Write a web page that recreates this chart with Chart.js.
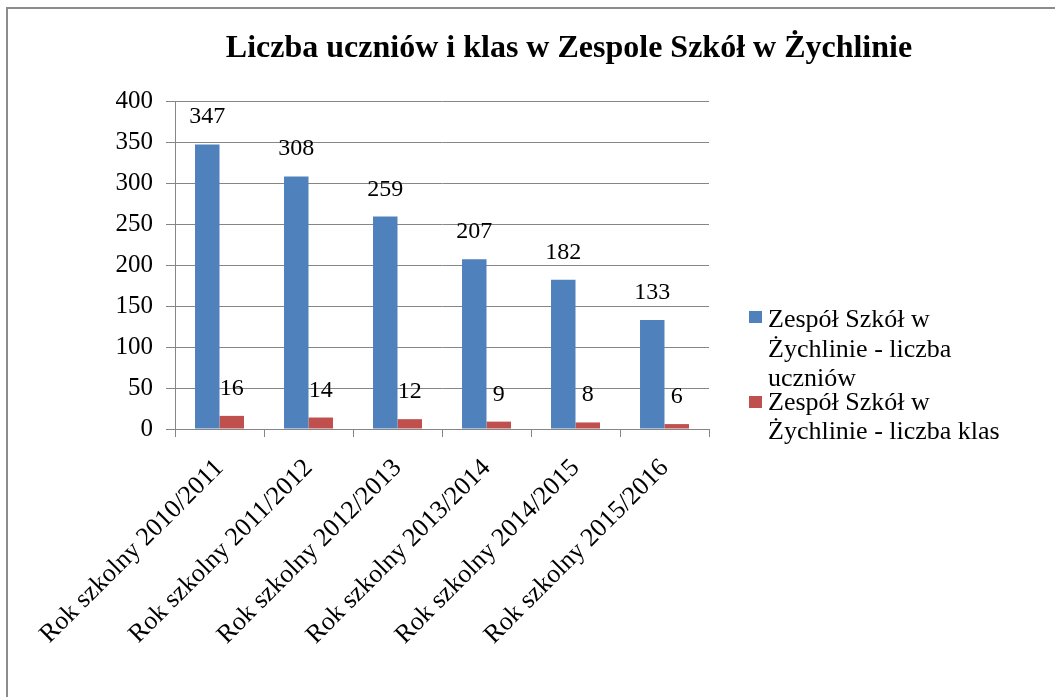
<!DOCTYPE html>
<html>
<head>
<meta charset="utf-8">
<script src="https://cdn.jsdelivr.net/npm/chart.js@4.4.1/dist/chart.umd.min.js"></script>
<style>
  html, body { margin: 0; padding: 0; background: #fff; overflow: hidden; }
</style>
</head>
<body>
<canvas id="barChart" width="1055" height="697"></canvas>
<script>
// --- data ---
var title = 'Liczba uczniów i klas w Zespole Szkół w Żychlinie'
var categories = ['Rok szkolny 2010/2011', 'Rok szkolny 2011/2012', 'Rok szkolny 2012/2013',
                  'Rok szkolny 2013/2014', 'Rok szkolny 2014/2015', 'Rok szkolny 2015/2016']
var uczniowie = [347, 308, 259, 207, 182, 133]
var klasy = [16, 14, 12, 9, 8, 6]
var seriesNames = [
  ['Zespół Szkół w', 'Żychlinie - liczba', 'uczniów'],
  ['Zespół Szkół w', 'Żychlinie - liczba klas']
]
var yTicks = [0, 50, 100, 150, 200, 250, 300, 350, 400]

var serif = '"Liberation Serif", "Times New Roman", serif'
var gridColor = '#868686'

// white page + frame, drawn before the chart
var background = {
  id: 'background',
  beforeDraw: function (chart) {
    var ctx = chart.ctx
    ctx.save()
    ctx.fillStyle = '#fff'
    ctx.fillRect(0, 0, chart.width, chart.height)
    ctx.strokeStyle = '#8c8c8c'
    ctx.lineWidth = 2
    ctx.beginPath()
    ctx.moveTo(7, chart.height)
    ctx.lineTo(7, 8)
    ctx.lineTo(chart.width, 8)
    ctx.stroke()
    ctx.restore()
  }
}

// title, data labels and the wrapped legend
var extras = {
  id: 'extras',
  afterDatasetsDraw: function (chart) {
    var ctx = chart.ctx
    ctx.save()
    ctx.fillStyle = '#000'

    // title
    ctx.font = 'bold 32px ' + serif
    ctx.textAlign = 'center'
    ctx.textBaseline = 'alphabetic'
    ctx.fillText(title, 569, 57)

    // value labels above the bars
    ctx.font = '24px ' + serif
    chart.data.datasets.forEach(function (ds, i) {
      chart.getDatasetMeta(i).data.forEach(function (bar, j) {
        ctx.fillText(String(ds.data[j]), bar.x, bar.y - 21)
      })
    })

    // legend
    ctx.textAlign = 'left'
    ctx.font = '26px ' + serif
    var entries = [
      { box: 311, lines: [327, 357, 386] },
      { box: 396, lines: [410, 439] }
    ]
    entries.forEach(function (e, i) {
      ctx.fillStyle = chart.data.datasets[i].backgroundColor
      ctx.fillRect(749, e.box, 13, 12)
      ctx.fillStyle = '#000'
      seriesNames[i].forEach(function (t, k) {
        ctx.fillText(t, 768, e.lines[k])
      })
    })
    ctx.restore()
  }
}

var barChartCanvas = document.getElementById('barChart').getContext('2d')

var barChart = new Chart(barChartCanvas, {
  type: 'bar',
  data: {
    labels: categories,
    datasets: [
      {
        label: seriesNames[0].join(' '),
        backgroundColor: '#4F81BD',
        data: uczniowie
      },
      {
        label: seriesNames[1].join(' '),
        backgroundColor: '#C0504D',
        data: klasy
      }
    ]
  },
  options: {
    responsive: false,
    animation: false,
    devicePixelRatio: 1,
    layout: { padding: { left: 0, top: 101, right: 346, bottom: 0 } },
    plugins: {
      legend: { display: false },
      title: { display: false },
      tooltip: { enabled: false }
    },
    datasets: {
      bar: { categoryPercentage: 0.55, barPercentage: 1.0 }
    },
    scales: {
      x: {
        afterFit: function (scale) { scale.height = 697 - 429 },
        grid: {
          offset: true,
          drawOnChartArea: false,
          drawTicks: true,
          tickLength: 8,
          color: gridColor
        },
        border: { display: true, color: gridColor, width: 1 },
        ticks: {
          color: '#000',
          font: { family: serif, size: 26 },
          minRotation: 45,
          maxRotation: 45,
          padding: 16
        }
      },
      y: {
        min: 0,
        max: 400,
        afterFit: function (scale) { scale.width = 175 },
        afterBuildTicks: function (scale) {
          scale.ticks = yTicks.map(function (v) { return { value: v } })
        },
        grid: {
          color: gridColor,
          drawTicks: true,
          tickLength: 9
        },
        border: { display: true, color: gridColor, width: 1 },
        ticks: {
          color: '#000',
          font: { family: serif, size: 25 },
          padding: 13
        }
      }
    }
  },
  plugins: [background, extras]
})
</script>
</body>
</html>
